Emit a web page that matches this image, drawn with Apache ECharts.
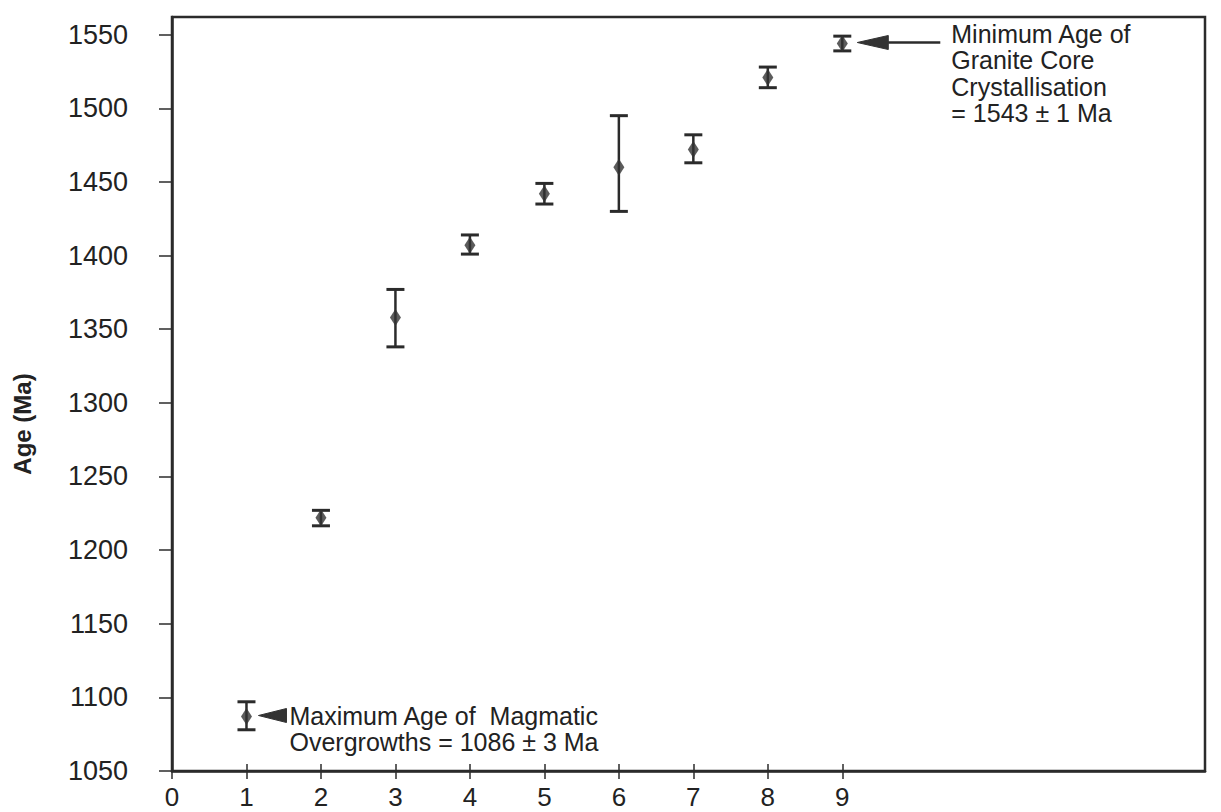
<!DOCTYPE html>
<html><head><meta charset="utf-8">
<script src="https://cdn.jsdelivr.net/npm/echarts@6/dist/echarts.min.js"></script>
<style>html,body{margin:0;padding:0;background:#fff}#c{width:1221px;height:812px}</style>
</head><body><div id="c"></div>
<script>
// ---- data ----
const sampleNo = [1, 2, 3, 4, 5, 6, 7, 8, 9];
const ages     = [1087, 1222, 1358, 1407, 1442, 1460, 1472, 1521, 1544];
const upper    = [1097, 1227, 1377, 1414, 1449, 1495, 1482, 1528, 1549];
const lower    = [1078, 1216.5, 1338, 1401, 1435, 1430, 1463, 1514, 1539];
const xTickValues = [0, 1, 2, 3, 4, 5, 6, 7, 8, 9];
const yTickValues = [1050, 1100, 1150, 1200, 1250, 1300, 1350, 1400, 1450, 1500, 1550];
const annotatedIdx = [0, 8];
const annotationTexts = [
  'Maximum Age of  Magmatic\nOvergrowths = 1086 \u00b1 3 Ma',
  'Minimum Age of\nGranite Core\nCrystallisation\n= 1543 \u00b1 1 Ma'
];
const yAxisName = 'Age (Ma)';

const INK = '#2b2b2b';
const FONT = "'Liberation Sans', Arial, Helvetica, sans-serif";

const chart = echarts.init(document.getElementById('c'), null, {renderer: 'svg'});

const errData = sampleNo.map((x, i) => [x, lower[i], upper[i]]);
const ptData = sampleNo.map((x, i) => [x, ages[i]]);
const annData = annotatedIdx.map((idx, k) => [sampleNo[idx], ages[idx], k]);

// annotation geometry (pixel offsets from the annotated point)
const annGeom = [
  {tip: 12, base: 40, shaftEnd: 40, half: 7, textX: 43, textY: -14, lh: 26},
  {tip: 15, base: 46, shaftEnd: 98, half: 7, textX: 109, textY: -23, lh: 26.5}
];

const option = {
  animation: false,
  backgroundColor: '#ffffff',
  grid: {left: 172, right: 16, top: 17, bottom: 41, show: true,
         borderColor: INK, borderWidth: 2.5, backgroundColor: 'transparent'},
  xAxis: [{
    type: 'value', min: 0, max: 13.87,
    axisLine: {show: true, lineStyle: {color: INK, width: 2.5}},
    axisTick: {show: true, inside: false, length: 8, customValues: xTickValues,
               lineStyle: {color: INK, width: 1.5}},
    axisLabel: {show: true, customValues: xTickValues, margin: 13,
                color: '#222', fontSize: 26, fontFamily: FONT,
                formatter: v => String(v)},
    splitLine: {show: false}
  }, {
    type: 'value', min: 0, max: 13.87, position: 'bottom',
    axisLine: {show: false},
    axisTick: {show: true, inside: true, length: 7, customValues: xTickValues,
               lineStyle: {color: INK, width: 1.5}},
    axisLabel: {show: false},
    splitLine: {show: false}
  }],
  yAxis: {
    type: 'value', min: 1050, max: 1562,
    name: yAxisName, nameLocation: 'middle', nameGap: 138,
    nameTextStyle: {fontSize: 24, fontWeight: 'bold', color: '#222', fontFamily: FONT,
                    padding: [0, 60, 0, 0]},
    axisLine: {show: true, lineStyle: {color: INK, width: 2.5}},
    axisTick: {show: true, inside: false, length: 13, customValues: yTickValues,
               lineStyle: {color: INK, width: 1.5}},
    axisLabel: {show: true, customValues: yTickValues, margin: 44,
                color: '#222', fontSize: 27, fontFamily: FONT,
                formatter: v => String(v)},
    splitLine: {show: false}
  },
  series: [{
    type: 'custom',
    name: 'error',
    data: errData,
    encode: {x: 0, y: [1, 2]},
    renderItem: function (params, api) {
      const x = api.value(0);
      const pLo = api.coord([x, api.value(1)]);
      const pHi = api.coord([x, api.value(2)]);
      const cap = 9;
      const st = {stroke: INK, lineWidth: 2.5};
      return {type: 'group', children: [
        {type: 'line', shape: {x1: pHi[0], y1: pHi[1], x2: pLo[0], y2: pLo[1]}, style: st},
        {type: 'line', shape: {x1: pHi[0] - cap, y1: pHi[1], x2: pHi[0] + cap, y2: pHi[1]},
         style: {stroke: INK, lineWidth: 3}},
        {type: 'line', shape: {x1: pLo[0] - cap, y1: pLo[1], x2: pLo[0] + cap, y2: pLo[1]},
         style: {stroke: INK, lineWidth: 3}}
      ]};
    },
    z: 2
  }, {
    type: 'scatter',
    name: 'age',
    data: ptData,
    symbol: 'diamond',
    symbolSize: [11, 17],
    itemStyle: {color: '#333333'},
    z: 3
  }, {
    type: 'custom',
    name: 'annotations',
    data: annData,
    encode: {x: 0, y: 1},
    renderItem: function (params, api) {
      const p = api.coord([api.value(0), api.value(1)]);
      const k = api.value(2);
      const g = annGeom[k];
      const y = p[1] - 1;
      const children = [
        {type: 'polygon', shape: {points: [[p[0] + g.tip, y], [p[0] + g.base, y - g.half], [p[0] + g.base, y + g.half]]},
         style: {fill: '#333333', stroke: '#333333', lineWidth: 1}},
        {type: 'text', x: p[0] + g.textX, y: p[1] + g.textY,
         style: {text: annotationTexts[k], fill: '#222', font: '25px ' + FONT,
                 align: 'left', verticalAlign: 'top', lineHeight: g.lh}}
      ];
      if (g.shaftEnd > g.base) {
        children.push({type: 'line', shape: {x1: p[0] + g.base, y1: y, x2: p[0] + g.shaftEnd, y2: y},
                       style: {stroke: INK, lineWidth: 2.5}});
      }
      return {type: 'group', children: children};
    },
    z: 4
  }]
};
chart.setOption(option);
</script>
</body></html>
